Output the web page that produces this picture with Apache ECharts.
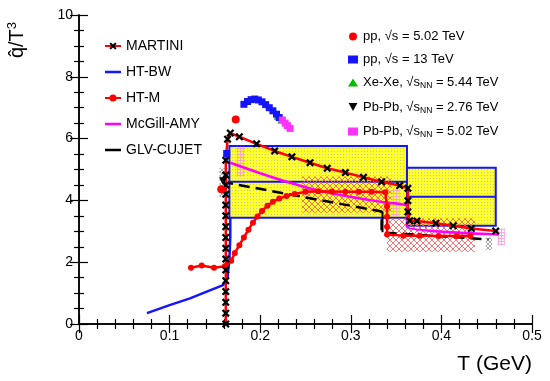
<!DOCTYPE html>
<html><head><meta charset="utf-8">
<script src="https://cdn.jsdelivr.net/npm/echarts@6/dist/echarts.min.js"></script>
<style>html,body{margin:0;padding:0;background:#fff}#c{width:550px;height:381px}</style>
</head><body><div id="c"></div>
<script>
const FONT = '"Liberation Sans", Arial, sans-serif';

// ---- Data ----
// Yellow boxes: [T start, T end, low, high, central]
const boxStart = [0.166, 0.362];
const boxEnd   = [0.362, 0.460];
const boxLow   = [3.44, 3.18];
const boxHigh  = [5.76, 5.06];
const boxMid   = [4.60, 4.12];

// Red cross-hatched bands
const hatchStart = [0.246, 0.340];
const hatchEnd   = [0.345, 0.437];
const hatchLow   = [3.60, 2.34];
const hatchHigh  = [4.77, 3.42];

// Small systematic bands (pink)
const pinkStart = [0.174, 0.345, 0.462];
const pinkEnd   = [0.183, 0.354, 0.470];
const pinkLow   = [4.77, 3.47, 2.55];
const pinkHigh  = [5.74, 4.40, 3.10];
// Small systematic bands (grey)
const greyStart = [0.155, 0.449];
const greyEnd   = [0.165, 0.456];
const greyLow   = [4.10, 2.40];
const greyHigh  = [5.05, 2.80];

const martiniT = [0.162,0.162,0.162,0.162,0.162,0.162,0.162,0.162,0.162,0.162,0.162,0.162,0.162,0.162,0.162,
  0.162,0.164,0.167,0.177,0.196,0.216,0.235,0.255,0.274,0.294,0.314,0.334,0.354,0.363,0.363,0.363,0.365,
  0.373,0.394,0.413,0.433,0.460];
const martiniQ = [0.00,0.35,0.70,1.05,1.40,1.75,2.10,2.45,2.80,3.15,3.50,3.85,4.20,4.50,4.82,
  5.30,5.98,6.18,6.06,5.83,5.60,5.41,5.22,5.04,4.90,4.75,4.60,4.48,4.39,3.99,3.63,3.34,
  3.33,3.26,3.18,3.09,3.01];

const htbwT = [0.075,0.100,0.1225,0.141,0.159,0.164,0.166,0.167,0.167];
const htbwQ = [0.35,0.61,0.83,1.05,1.26,1.53,2.07,2.83,3.44];

const htmT = [0.1236,0.1354,0.149,0.161,0.168,0.172,0.177,0.182,0.187,0.192,0.197,0.202,0.208,0.214,0.221,
  0.229,0.238,0.250,0.264,0.279,0.294,0.309,0.323,0.338,0.340,0.340,0.340,0.340,0.358,0.376,0.397,0.417,0.432];
const htmQ = [1.82,1.89,1.82,1.87,2.05,2.30,2.55,2.80,3.05,3.28,3.48,3.66,3.83,3.96,4.06,
  4.14,4.21,4.28,4.30,4.29,4.28,4.28,4.28,4.26,3.80,3.47,3.15,2.90,2.86,2.86,2.85,2.85,2.85];

const amyT = [0.167,0.200,0.233,0.266,0.299,0.332,0.362,0.362,0.463];
const amyQ = [5.22,4.88,4.57,4.30,4.12,3.96,3.80,3.15,2.90];

const glvT = [0.158,0.334,0.334,0.340,0.452];
const glvQ = [4.60,3.64,2.97,2.95,2.74];
const glvBarT = [0.335,0.335];
const glvBarQ = [3.64,2.97];

const pp502T = [0.173,0.157];
const pp502Q = [6.62,4.36];
const pp13T = [0.163,0.182,0.186,0.190,0.194,0.198,0.202,0.206,0.210,0.214,0.218,0.221];
const pp13Q = [5.52,7.11,7.20,7.26,7.28,7.25,7.19,7.10,7.00,6.90,6.79,6.68];
const xexeT = [0.219,0.223];
const xexeQ = [6.72,6.60];
const pbpb276T = [0.159];
const pbpb276Q = [4.62];
const pbpb502T = [0.2245,0.2275,0.230,0.233];
const pbpb502Q = [6.60,6.50,6.42,6.33];

// tick labels
const xTicks = [0, 0.1, 0.2, 0.3, 0.4, 0.5];
const yTicks = [0, 2, 4, 6, 8, 10];

// ---- helpers ----
const zip = (a, b) => a.map((v, i) => [v, b[i]]);
const rows = (...cols) => cols[0].map((_, i) => cols.map(c => c[i]));
function makePattern(w, h, draw) {
  const c = document.createElement('canvas'); c.width = w; c.height = h;
  draw(c.getContext('2d')); return { image: c, repeat: 'repeat' };
}
const yellowPat = makePattern(3, 3, g => { g.fillStyle = '#ffff2e'; g.fillRect(0, 0, 3, 3); g.fillStyle = '#c8c890'; g.fillRect(1, 1, 1, 1); });
const redHatch = makePattern(6, 6, g => { g.strokeStyle = 'rgba(250,90,90,0.85)'; g.lineWidth = 1; g.beginPath(); g.moveTo(0, 0); g.lineTo(6, 6); g.moveTo(6, 0); g.lineTo(0, 6); g.stroke(); });
const pinkHatch = makePattern(3, 3, g => { g.fillStyle = 'rgba(255,150,220,0.8)'; g.fillRect(0, 0, 1, 3); g.fillRect(0, 1, 3, 1); });
const greyHatch = makePattern(4, 4, g => { g.strokeStyle = 'rgba(150,150,150,0.8)'; g.beginPath(); g.moveTo(0, 0); g.lineTo(4, 4); g.moveTo(4, 0); g.lineTo(0, 4); g.stroke(); });

function rectRender(fill, stroke, lw, withMid) {
  return (params, api) => {
    const a = api.coord([api.value(0), api.value(3)]);
    const b = api.coord([api.value(1), api.value(2)]);
    const children = [{ type: 'rect', shape: { x: a[0], y: a[1], width: b[0] - a[0], height: b[1] - a[1] },
      style: { fill: fill, stroke: stroke || null, lineWidth: lw || 0 } }];
    if (withMid) {
      const m = api.coord([api.value(0), api.value(4)]);
      children.push({ type: 'line', shape: { x1: a[0], y1: m[1], x2: b[0], y2: m[1] }, style: { stroke: stroke, lineWidth: lw } });
    }
    return { type: 'group', children };
  };
}

const xSym = 'path://M2,0 L5,3 L8,0 L10,2 L7,5 L10,8 L8,10 L5,7 L2,10 L0,8 L3,5 L0,2 Z';
const downTri = 'path://M0,0 L10,0 L5,9 Z';
const lineIcon = 'path://M0,3.3 L16,3.3 L16,5.7 L0,5.7 Z M0,0 L0.01,0 L0,0.01 Z M0,9 L0.01,9 L0,8.99 Z';

const tickStyle = { color: '#000', width: 1.2 };
function axisCommon(split) {
  return {
    axisLine: { lineStyle: { color: '#000', width: 1.5 } },
    axisTick: { inside: true, length: 9, lineStyle: tickStyle },
    minorTick: { show: true, splitNumber: split, length: 5, lineStyle: tickStyle },
    splitLine: { show: false }
  };
}

const chart = echarts.init(document.getElementById('c'), null, { renderer: 'canvas' });
chart.setOption({
  animation: false,
  backgroundColor: '#fff',
  grid: { left: 79, top: 15, width: 453, height: 309 },
  xAxis: [
    Object.assign({ type: 'value', min: xTicks[0], max: xTicks[xTicks.length - 1], interval: 0.1, position: 'bottom',
      axisLabel: { color: '#000', fontSize: 14, fontFamily: FONT, margin: 5,
        formatter: v => String(+v.toFixed(1)) } }, axisCommon(5)),
    Object.assign({ type: 'value', min: 0, max: 0.5, interval: 0.1, position: 'top', axisLabel: { show: false } }, axisCommon(5))
  ],
  yAxis: [
    Object.assign({ type: 'value', min: yTicks[0], max: yTicks[yTicks.length - 1], interval: 2, position: 'left',
      axisLabel: { color: '#000', fontSize: 14, fontFamily: FONT, margin: 6 } }, axisCommon(4)),
    Object.assign({ type: 'value', min: 0, max: 10, interval: 2, position: 'right', axisLabel: { show: false } }, axisCommon(4))
  ],
  legend: [
    { data: ['MARTINI', { name: 'HT-BW', icon: lineIcon }, 'HT-M', { name: 'McGill-AMY', icon: lineIcon }, { name: 'GLV-CUJET', icon: lineIcon }],
      orient: 'vertical', left: 104, top: 39, padding: 0,
      itemWidth: 16, itemHeight: 9, itemGap: 12, textStyle: { fontSize: 14, fontFamily: FONT, color: '#000', lineHeight: 14 },
      lineStyle: { type: 'solid' } },
    { data: ['pp, √s = 5.02 TeV', 'pp, √s = 13 TeV', 'Xe-Xe, √sNN = 5.44 TeV', 'Pb-Pb, √sNN = 2.76 TeV', 'Pb-Pb, √sNN = 5.02 TeV'],
      orient: 'vertical', left: 348, top: 30, padding: 0, itemWidth: 10, itemHeight: 8, itemGap: 10,
      formatter: n => { const i = n.indexOf('NN'); if (i < 0) return '{t|' + n + '}'; return '{t|' + n.slice(0, i) + '}{sub|NN}{t|' + n.slice(i + 2) + '}'; },
      textStyle: { fontSize: 13, fontFamily: FONT, color: '#000',
        rich: { t: { fontSize: 13, fontFamily: FONT, color: '#000', lineHeight: 16 },
                sub: { fontSize: 8.5, fontFamily: FONT, color: '#000', lineHeight: 9, verticalAlign: 'bottom' } } } }
  ],
  graphic: [
    { type: 'text', x: 532, y: 364, style: { text: 'T (GeV)', fontSize: 21, fontFamily: FONT, fill: '#000', align: 'right', verticalAlign: 'middle' } },
    { type: 'text', x: 17, y: 40, rotation: Math.PI / 2,
      style: { text: '{a|q\u0302/T}{b|3}', align: 'center', verticalAlign: 'middle',
        rich: { a: { fontSize: 20, fontFamily: FONT, fill: '#000', lineHeight: 22 },
                b: { fontSize: 13, fontFamily: FONT, fill: '#000', lineHeight: 13, verticalAlign: 'top' } } } }
  ],
  series: [
    { type: 'custom', name: 'boxes', renderItem: rectRender(yellowPat, '#1414ff', 2, true),
      data: rows(boxStart, boxEnd, boxLow, boxHigh, boxMid), encode: { x: [0, 1], y: [2, 3] }, z: 1, silent: true },
    { type: 'custom', name: 'hatch', renderItem: rectRender(redHatch),
      data: rows(hatchStart, hatchEnd, hatchLow, hatchHigh), encode: { x: [0, 1], y: [2, 3] }, z: 2, silent: true },
    { type: 'custom', name: 'pinkSys', renderItem: rectRender(pinkHatch),
      data: rows(pinkStart, pinkEnd, pinkLow, pinkHigh), encode: { x: [0, 1], y: [2, 3] }, z: 2, silent: true },
    { type: 'custom', name: 'greySys', renderItem: rectRender(greyHatch),
      data: rows(greyStart, greyEnd, greyLow, greyHigh), encode: { x: [0, 1], y: [2, 3] }, z: 2, silent: true },
    { name: 'HT-BW', type: 'line', data: zip(htbwT, htbwQ), symbol: 'none', lineStyle: { color: '#1414ff', width: 2.5 }, itemStyle: { color: '#1414ff' }, z: 4 },
    { name: 'GLV-CUJET', type: 'line', data: zip(glvT, glvQ), symbol: 'none', lineStyle: { color: '#000', width: 2.5, type: [11, 6] }, itemStyle: { color: '#000' }, z: 4 },
    { name: 'glvBar', type: 'line', data: zip(glvBarT, glvBarQ), symbol: 'none', lineStyle: { color: '#000', width: 2 }, z: 4 },
    { name: 'McGill-AMY', type: 'line', data: zip(amyT, amyQ), symbol: 'none', smooth: 0.2, lineStyle: { color: '#ff00ff', width: 2.5 }, itemStyle: { color: '#ff00ff' }, z: 4 },
    { name: 'HT-M', type: 'line', data: zip(htmT, htmQ), symbol: 'circle', symbolSize: 6, showAllSymbol: true, lineStyle: { color: '#ff0000', width: 2.5 }, itemStyle: { color: '#ff0000' }, z: 5 },
    { name: 'MARTINI', type: 'line', data: zip(martiniT, martiniQ), symbol: xSym, symbolSize: 8, showAllSymbol: true, lineStyle: { color: '#ff0000', width: 2.5 }, itemStyle: { color: '#000' }, z: 6 },
    { name: 'pp, √s = 5.02 TeV', type: 'scatter', data: zip(pp502T, pp502Q), symbol: 'circle', symbolSize: 8, itemStyle: { color: '#ff0000', opacity: 1 }, z: 8 },
    { name: 'pp, √s = 13 TeV', type: 'scatter', data: zip(pp13T, pp13Q), symbol: 'rect', symbolSize: 7, itemStyle: { color: '#1414ff', opacity: 1 }, z: 8 },
    { name: 'Xe-Xe, √sNN = 5.44 TeV', type: 'scatter', data: zip(xexeT, xexeQ), symbol: 'triangle', symbolSize: 7, itemStyle: { color: '#00bb00', opacity: 1 }, z: 7 },
    { name: 'Pb-Pb, √sNN = 2.76 TeV', type: 'scatter', data: zip(pbpb276T, pbpb276Q), symbol: downTri, symbolSize: 8, itemStyle: { color: '#000', opacity: 1 }, z: 7 },
    { name: 'Pb-Pb, √sNN = 5.02 TeV', type: 'scatter', data: zip(pbpb502T, pbpb502Q), symbol: 'rect', symbolSize: 7, itemStyle: { color: '#ff33ff', opacity: 1 }, z: 8 }
  ]
});
</script></body></html>
